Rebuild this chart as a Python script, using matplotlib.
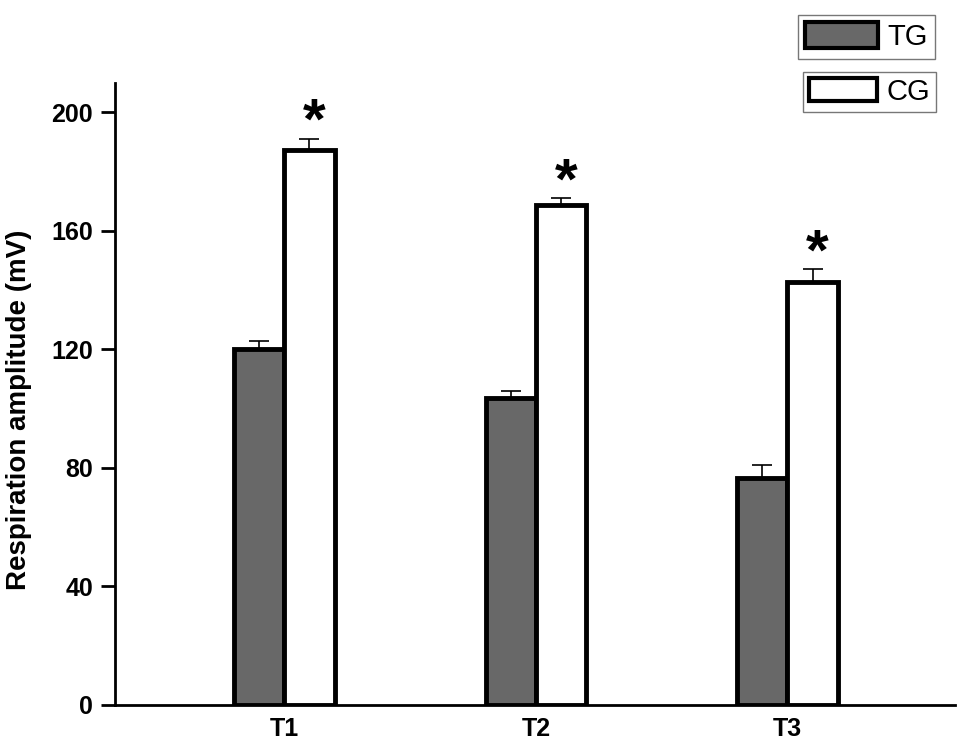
import matplotlib
matplotlib.use('Agg')
import matplotlib.pyplot as plt
import numpy as np
from matplotlib.patches import Patch

plt.rcParams['font.family'] = ['Liberation Sans', 'DejaVu Sans']
plt.rcParams['font.weight'] = 'bold'

groups = ['T1', 'T2', 'T3']
tg_vals = [120.0, 103.5, 76.6]
tg_err = [2.8, 2.4, 4.4]
cg_vals = [187.2, 168.6, 142.7]
cg_err = [3.8, 2.4, 4.3]
stars = ['*', '*', '*']

x = np.arange(1, len(groups) + 1)
w = 0.2

fig = plt.figure(figsize=(9.69, 7.5), dpi=100)
ax = fig.add_axes([0.119, 0.06, 0.867, 0.83])

eb = dict(ecolor='black', elinewidth=1.2, capsize=7, capthick=1.2)
ax.bar(x - w / 2, tg_vals, w, color='#686868', edgecolor='black', linewidth=3.5,
       yerr=[np.zeros(3), tg_err], error_kw=eb, zorder=3)
ax.bar(x + w / 2, cg_vals, w, color='white', edgecolor='black', linewidth=3.5,
       yerr=[np.zeros(3), cg_err], error_kw=eb, zorder=3)

# significance stars above the CG bars
for xi, v, e, s in zip(x, cg_vals, cg_err, stars):
    ax.text(xi + w / 2 + 0.02, v + e + 5, s, ha='center', va='center', fontsize=42, fontweight='bold')

ax.set_xlim(0.328, 3.668)
ax.set_ylim(0, 210)
ax.set_yticks([0, 40, 80, 120, 160, 200])
ax.set_xticks(x)
ax.set_xticklabels(groups)
ax.tick_params(axis='y', direction='out', length=10, width=2, labelsize=18, pad=6)
ax.tick_params(axis='x', length=0, labelsize=18, pad=9)
ax.set_ylabel('Respiration amplitude (mV)', fontsize=20, fontweight='bold')
ax.yaxis.set_label_coords(-0.099, 0.475)
ax.spines['top'].set_visible(False)
ax.spines['right'].set_visible(False)
ax.spines['left'].set_linewidth(2)
ax.spines['bottom'].set_linewidth(2)

leg_prop = {'size': 21, 'weight': 'normal'}
leg1 = fig.legend(handles=[Patch(facecolor='#686868', edgecolor='black', linewidth=3, label='TG')],
                  loc='upper left', bbox_to_anchor=(0.8235, 0.98), borderaxespad=0,
                  fancybox=False, edgecolor='#555555', prop=leg_prop,
                  handlelength=2.5, handleheight=1.0, borderpad=0.25, handletextpad=0.3)
leg1.get_frame().set_linewidth(1)
leg2 = fig.legend(handles=[Patch(facecolor='white', edgecolor='black', linewidth=3, label='CG')],
                  loc='upper left', bbox_to_anchor=(0.8287, 0.904), borderaxespad=0,
                  fancybox=False, edgecolor='#555555', prop=leg_prop,
                  handlelength=2.35, handleheight=0.85, borderpad=0.2, handletextpad=0.3)
leg2.get_frame().set_linewidth(1)

plt.savefig('out.png', dpi=100)
